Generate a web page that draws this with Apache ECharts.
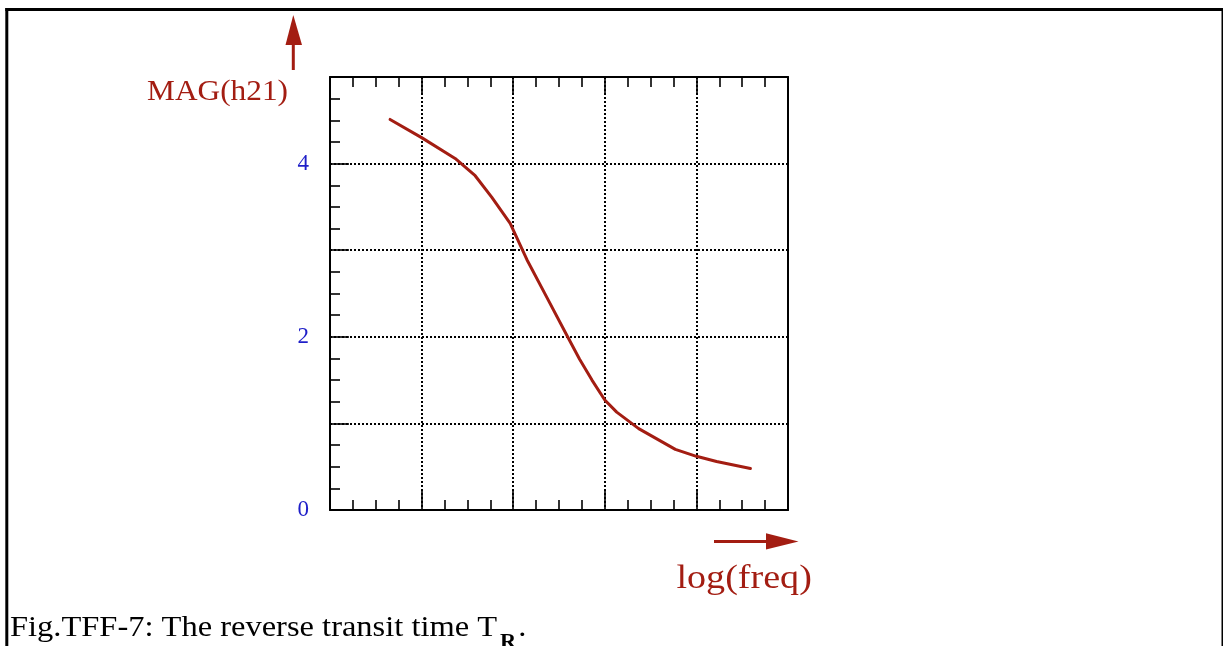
<!DOCTYPE html>
<html>
<head>
<meta charset="utf-8">
<title>Fig.TFF-7</title>
<script src="https://cdn.jsdelivr.net/npm/echarts@6/dist/echarts.min.js"></script>
<style>
  html, body { margin: 0; padding: 0; background: #ffffff; }
  #chart { width: 1223px; height: 646px; }
</style>
</head>
<body>
<div id="chart"></div>
<script>
// log(freq) positions (in grid divisions) and |h21| magnitude along the curve
const logFreq = [0.656, 1.0, 1.366, 1.585, 1.767, 1.967, 2.15, 2.35, 2.594, 2.725, 2.86, 3.0, 3.13, 3.37, 3.77, 4.0, 4.22, 4.59];
const magH21  = [4.51, 4.30, 4.06, 3.86, 3.61, 3.31, 2.89, 2.49, 2.0, 1.74, 1.50, 1.27, 1.13, 0.94, 0.70, 0.62, 0.56, 0.48];

// labelled ticks on the magnitude axis
const yTickLabels = ['0', '2', '4'];

const yAxisTitle = 'MAG(h21)';
const xAxisTitle = 'log(freq)';
const captionMain = 'Fig.TFF-7: The reverse transit time T';
const captionSub = 'R';
const captionEnd = '.';

const RED = '#a31d12';
const BLUE = '#1e1ec8';
const SERIF = '"Liberation Serif", "Times New Roman", serif';

const chart = echarts.init(document.getElementById('chart'), null, { renderer: 'canvas' });

// measure caption width so the subscript follows the "T"
const ctx = document.createElement('canvas').getContext('2d');
ctx.font = '29px ' + SERIF;
const STRETCH = 1.12;
const capX = 10;
const capW = ctx.measureText(captionMain).width * STRETCH;
ctx.font = 'bold 20px ' + SERIF;
const subW = ctx.measureText(captionSub).width * STRETCH;

const tickStyle = { color: '#000', width: 1.6 };
const axisLine = { show: true, onZero: false, lineStyle: { color: '#000', width: 2 } };
const gridDots = { show: true, lineStyle: { color: '#000', width: 2, type: [2, 2] } };

const option = {
  animation: false,
  backgroundColor: '#ffffff',
  grid: { left: 330, top: 77, right: 435, bottom: 136, containLabel: false },
  xAxis: [
    {
      type: 'value', position: 'bottom', min: 0, max: 5, interval: 1,
      axisLine: axisLine,
      axisTick: { show: true, inside: true, length: 20, lineStyle: tickStyle },
      minorTick: { show: true, splitNumber: 4, length: 10, lineStyle: tickStyle },
      axisLabel: { show: false },
      splitLine: gridDots
    },
    {
      type: 'value', position: 'top', min: 0, max: 5, interval: 1,
      axisLine: axisLine,
      axisTick: { show: true, inside: true, length: 16, lineStyle: tickStyle },
      minorTick: { show: true, splitNumber: 4, length: 10, lineStyle: tickStyle },
      axisLabel: { show: false },
      splitLine: { show: false }
    }
  ],
  yAxis: [
    {
      type: 'value', position: 'left', min: 0, max: 5, interval: 1,
      axisLine: axisLine,
      axisTick: { show: true, inside: true, length: 19, lineStyle: tickStyle },
      minorTick: { show: true, splitNumber: 4, length: 10, lineStyle: tickStyle },
      axisLabel: {
        show: true, margin: 21, color: BLUE, fontSize: 23, fontFamily: SERIF,
        formatter: function (v) {
          const s = String(v);
          return yTickLabels.indexOf(s) >= 0 ? s : '';
        }
      },
      splitLine: gridDots
    },
    {
      type: 'value', position: 'right', min: 0, max: 5, interval: 1,
      axisLine: axisLine,
      axisTick: { show: false },
      axisLabel: { show: false },
      splitLine: { show: false }
    }
  ],
  series: [
    {
      type: 'line',
      xAxisIndex: 0, yAxisIndex: 0,
      data: logFreq.map((x, i) => [x, magH21[i]]),
      showSymbol: false,
      smooth: false,
      lineStyle: { color: RED, width: 3, cap: 'round', join: 'round' }
    }
  ],
  graphic: [
    // page frame
    { type: 'line', shape: { x1: 6.8, y1: 8, x2: 6.8, y2: 646 }, style: { stroke: '#000', lineWidth: 3 } },
    { type: 'line', shape: { x1: 5.3, y1: 9.5, x2: 1223, y2: 9.5 }, style: { stroke: '#000', lineWidth: 3 } },
    { type: 'line', shape: { x1: 1222.3, y1: 8, x2: 1222.3, y2: 646 }, style: { stroke: '#000', lineWidth: 1.6 } },

    // vertical axis arrow and title
    { type: 'line', shape: { x1: 293.3, y1: 70, x2: 293.3, y2: 42 }, style: { stroke: RED, lineWidth: 3 } },
    { type: 'polygon', shape: { points: [[293.3, 15], [285.5, 45], [302, 45]] }, style: { fill: RED } },
    {
      type: 'text', x: 288, y: 92.5, scaleX: 1.08, originX: 0, originY: 0,
      style: { text: yAxisTitle, font: '29px ' + SERIF, fill: RED, textAlign: 'right', textVerticalAlign: 'middle' }
    },

    // horizontal axis arrow and title
    { type: 'line', shape: { x1: 714, y1: 541.6, x2: 769, y2: 541.6 }, style: { stroke: RED, lineWidth: 3 } },
    { type: 'polygon', shape: { points: [[766, 533.3], [798.5, 541.6], [766, 549.6]] }, style: { fill: RED } },
    {
      type: 'text', x: 676.5, y: 579.5, scaleX: STRETCH, originX: 0, originY: 0,
      style: { text: xAxisTitle, font: '34px ' + SERIF, fill: RED, textAlign: 'left', textVerticalAlign: 'middle' }
    },

    // caption with subscript
    {
      type: 'text', x: capX, y: 628.3, scaleX: STRETCH, originX: 0, originY: 0,
      style: { text: captionMain, font: '29px ' + SERIF, fill: '#000', textAlign: 'left', textVerticalAlign: 'middle' }
    },
    {
      type: 'text', x: capX + capW + 3, y: 643, scaleX: STRETCH, originX: 0, originY: 0,
      style: { text: captionSub, font: 'bold 20px ' + SERIF, fill: '#000', textAlign: 'left', textVerticalAlign: 'middle' }
    },
    {
      type: 'text', x: capX + capW + 3 + subW + 2, y: 628.3, scaleX: STRETCH, originX: 0, originY: 0,
      style: { text: captionEnd, font: '29px ' + SERIF, fill: '#000', textAlign: 'left', textVerticalAlign: 'middle' }
    }
  ]
};

chart.setOption(option);
</script>
</body>
</html>
